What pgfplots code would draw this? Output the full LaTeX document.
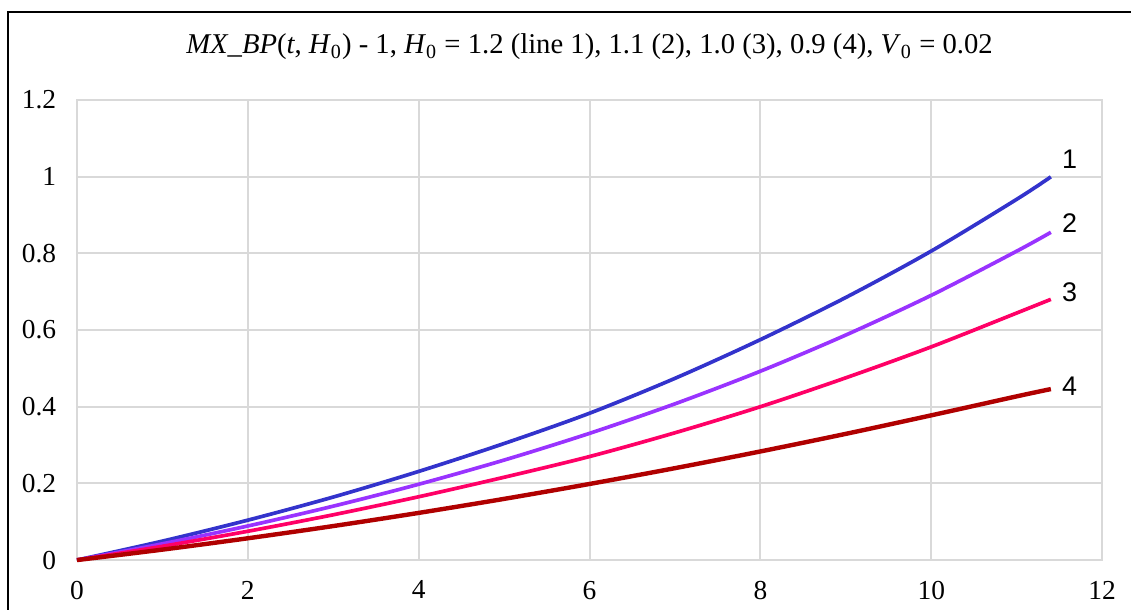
\documentclass[border=0pt]{standalone}
\usepackage{pgfplots}
\pgfplotsset{compat=1.18}
\usepackage{fontspec}
\setmainfont{Liberation Serif}
\newfontfamily\arialfont{Liberation Sans}
\definecolor{c1}{HTML}{3333CC}
\definecolor{c2}{HTML}{9933FF}
\definecolor{c3}{HTML}{FF0066}
\definecolor{c4}{HTML}{B00000}
\definecolor{gridc}{HTML}{D9D9D9}
\begin{document}
\begin{tikzpicture}
\begin{axis}[
  scale only axis,
  width=418.7pt, height=187.9pt,
  xmin=0, xmax=12, ymin=0, ymax=1.2,
  xtick={0,2,...,12}, ytick={0,0.2,...,1.2},
  grid=major,
  major grid style={gridc, line width=0.8pt},
  axis line style={gridc, line width=0.8pt},
  major tick length=0pt,
  tick label style={font=\fontsize{11.2}{13}\selectfont, black},
  /pgf/number format/assume math mode=true,
  yticklabel style={/pgf/number format/fixed, /pgf/number format/precision=1},
  xticklabel style={yshift=-5pt},
  yticklabel style={xshift=-5pt},
  clip=false,
]
\addplot[c1, line width=1.5pt, smooth] coordinates {
(0,0) (1,0.0494) (2,0.1041) (3,0.1644) (4,0.2312) (5,0.3040) (6,0.3830) (7,0.4740) (8,0.5750) (9,0.6850) (10,0.8060) (11,0.9410) (11.4,0.9996)};
\addplot[c2, line width=1.5pt, smooth] coordinates {
(0,0) (1,0.0423) (2,0.0889) (3,0.1406) (4,0.1977) (5,0.2608) (6,0.3305) (7,0.4075) (8,0.4926) (9,0.5870) (10,0.6906) (11,0.8057) (11.4,0.8549)};
\addplot[c3, line width=1.5pt, smooth] coordinates {
(0,0) (1,0.0359) (2,0.0751) (3,0.1181) (4,0.1651) (5,0.2160) (6,0.2700) (7,0.3320) (8,0.4000) (9,0.4754) (10,0.5561) (11,0.6444) (11.4,0.6800)};
\addplot[c4, line width=1.8pt, smooth] coordinates {
(0,0) (1,0.0272) (2,0.0568) (3,0.0887) (4,0.1230) (5,0.1596) (6,0.1985) (7,0.2397) (8,0.2833) (9,0.3292) (10,0.3775) (11,0.4270) (11.4,0.4460)};
\node[font=\arialfont\fontsize{11}{13}\selectfont] at (axis cs:11.62,1.045) {1};
\node[font=\arialfont\fontsize{11}{13}\selectfont] at (axis cs:11.62,0.880) {2};
\node[font=\arialfont\fontsize{11}{13}\selectfont] at (axis cs:11.62,0.698) {3};
\node[font=\arialfont\fontsize{11}{13}\selectfont] at (axis cs:11.62,0.454) {4};
\end{axis}
\node[font=\fontsize{11.7}{14}\selectfont] at (209.35pt,209.6pt) {\textit{MX\_BP}(\textit{t}, \textit{H}\textsubscript{0}) - 1, \textit{H}\textsubscript{0} = 1.2 (line 1), 1.1 (2), 1.0 (3), 0.9 (4), \textit{V}\textsubscript{0} = 0.02};
\draw[line width=0.8pt] (-28.15pt,-25pt) -- (-28.15pt,223.85pt) -- (445pt,223.85pt);
\pgfresetboundingbox
\path[use as bounding box] (-31.45pt,-20pt) rectangle (430.5pt,228.75pt);
\end{tikzpicture}
\end{document}
